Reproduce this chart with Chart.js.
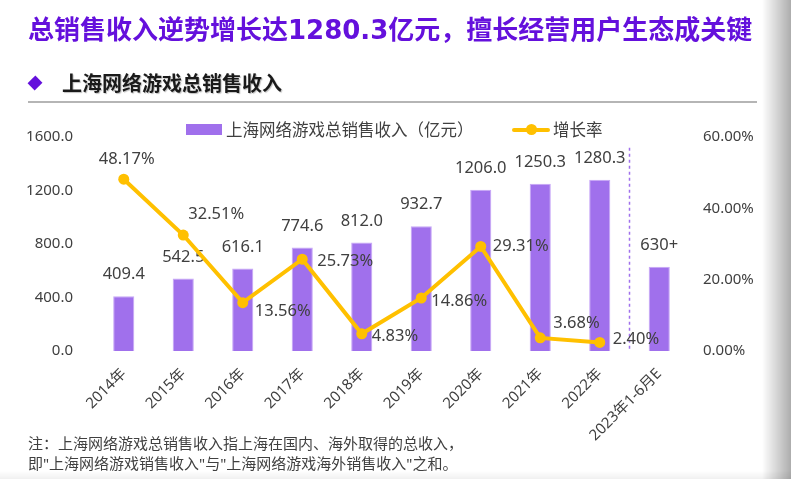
<!DOCTYPE html>
<html><head><meta charset="utf-8">
<script src="https://cdn.jsdelivr.net/npm/chart.js@4/dist/chart.umd.min.js"></script>
<style>
html,body{margin:0;padding:0;background:#fff;}
body{width:791px;height:479px;position:relative;overflow:hidden;font-family:"Noto Sans","Noto Sans CJK SC",sans-serif;}
#wrap{position:absolute;left:0;top:0;width:791px;height:479px;}
.abs{position:absolute;white-space:nowrap;}
#title{left:28px;top:15px;font-size:26px;line-height:30px;font-weight:bold;color:#6410DC;font-family:"DejaVu Sans","Noto Sans CJK SC",sans-serif;}
#sub{left:62px;top:71px;font-size:20px;line-height:24px;font-weight:bold;color:#1a1a1a;font-family:"Noto Sans CJK SC",sans-serif;text-shadow:1px 1px 1px rgba(0,0,0,0.25);}
#diamond{left:30px;top:78px;width:10px;height:10px;background:#6410DC;transform:rotate(45deg) scale(1,1.1);}
#rule{left:28px;top:101px;width:729px;height:2px;background:#b5b5b5;}
#note{left:28px;top:433px;font-size:15px;line-height:20px;color:#404040;}
.leg{font-size:16.5px;line-height:20px;color:#404040;top:119.5px;}
#lbox{left:186px;top:124px;width:36px;height:11px;background:#A070EC;}
#lline{left:512px;top:127.5px;width:38px;height:4px;background:#FFC000;border-radius:2px;}
#ldot{left:525.5px;top:124px;width:11px;height:11px;border-radius:50%;background:#FFC000;}
#shadeR{left:762px;top:0;width:29px;height:479px;background:linear-gradient(to right,rgba(0,0,0,0),rgba(0,0,0,0.32));}
#shadeB{left:0;top:471px;width:791px;height:8px;background:linear-gradient(to bottom,rgba(0,0,0,0),rgba(0,0,0,0.06));}
canvas{position:absolute;left:0;top:0;}
</style></head>
<body>
<div id="wrap"><canvas id="c" width="791" height="479"></canvas></div>
<div class="abs" id="title">总销售收入逆势增长达1280.3亿元，擅长经营用户生态成关键</div>
<div class="abs" id="diamond"></div>
<div class="abs" id="sub">上海网络游戏总销售收入</div>
<div class="abs" id="rule"></div>
<div class="abs" id="lbox"></div>
<div class="abs leg" style="left:226px;">上海网络游戏总销售收入（亿元）</div>
<div class="abs" id="lline"></div>
<div class="abs" id="ldot"></div>
<div class="abs leg" style="left:553px;">增长率</div>
<div class="abs" id="note">注：上海网络游戏总销售收入指上海在国内、海外取得的总收入，<br>即"上海网络游戏销售收入"与"上海网络游戏海外销售收入"之和。</div>
<div class="abs" id="shadeR"></div>
<div class="abs" id="shadeB"></div>
<script>
const categories = ['2014年','2015年','2016年','2017年','2018年','2019年','2020年','2021年','2022年','2023年1-6月E'];
const revenue = [409.4, 542.5, 616.1, 774.6, 812.0, 932.7, 1206.0, 1250.3, 1280.3, 630];
const revenueLabels = ['409.4','542.5','616.1','774.6','812.0','932.7','1206.0','1250.3','1280.3','630+'];
const growthRate = [48.17, 32.51, 13.56, 25.73, 4.83, 14.86, 29.31, 3.68, 2.40, null];
const growthLabels = ['48.17%','32.51%','13.56%','25.73%','4.83%','14.86%','29.31%','3.68%','2.40%',''];
const leftTicks = [0, 400, 800, 1200, 1600];
const rightTicks = [0, 20, 40, 60];

// label placement for growth-rate labels: [align, dx, dy]
const rateLabelPlace = [
  ['center', 3, -19.5], ['left', 5, -21], ['left', 12, 8.5], ['left', 15, 2],
  ['left', 10, 2.5], ['left', 10, 3], ['left', 12, 0], ['left', 13, -15], ['left', 13, -3], ['left', 0, 0]
];

const TXT = '#404040';
const FONT = '"Noto Sans","Noto Sans CJK SC",sans-serif';

const labelPlugin = {
  id: 'labels',
  afterDatasetDraw(chart, args) {
    if (args.index !== 0) return;
    const ctx = chart.ctx;
    const meta = chart.getDatasetMeta(0);
    ctx.save();
    ctx.font = '16.5px ' + FONT;
    ctx.fillStyle = TXT;
    ctx.textAlign = 'center';
    ctx.textBaseline = 'middle';
    meta.data.forEach((el, i) => {
      ctx.fillText(revenueLabels[i], el.x, el.y - 21.5);
    });
    // dashed separator between last two categories
    const xs = chart.scales.x;
    const n = categories.length;
    const sx = (xs.getPixelForValue(n - 2) + xs.getPixelForValue(n - 1)) / 2;
    ctx.strokeStyle = '#A070EC';
    ctx.lineWidth = 1.5;
    ctx.setLineDash([3, 3]);
    ctx.beginPath();
    ctx.moveTo(sx, chart.scales.y.getPixelForValue(1520));
    ctx.lineTo(sx, chart.chartArea.bottom);
    ctx.stroke();
    ctx.restore();
  },
  afterDatasetsDraw(chart) {
    const ctx = chart.ctx;
    const meta = chart.getDatasetMeta(1);
    ctx.save();
    ctx.font = '16.5px ' + FONT;
    ctx.fillStyle = TXT;
    ctx.textBaseline = 'middle';
    meta.data.forEach((el, i) => {
      if (growthRate[i] == null) return;
      const p = rateLabelPlace[i];
      ctx.textAlign = p[0];
      ctx.fillText(growthLabels[i], el.x + p[1], el.y + p[2]);
    });
    ctx.restore();
  }
};

Chart.defaults.font.family = FONT;
Chart.defaults.color = TXT;

new Chart(document.getElementById('c'), {
  type: 'bar',
  data: {
    labels: categories,
    datasets: [
      {
        type: 'bar', label: '上海网络游戏总销售收入（亿元）', data: revenue, yAxisID: 'y',
        backgroundColor: '#A070EC', borderColor: '#C7A6F7', borderWidth: 1,
        barPercentage: 0.355, categoryPercentage: 1, order: 2
      },
      {
        type: 'line', label: '增长率', data: growthRate, yAxisID: 'y1',
        borderColor: '#FFC000', backgroundColor: '#FFC000', borderWidth: 4,
        pointRadius: 5.5, pointBackgroundColor: '#FFC000', pointBorderWidth: 0,
        tension: 0, spanGaps: false, order: 1
      }
    ]
  },
  options: {
    responsive: false, animation: false,
    layout: { padding: { top: 137, left: 0, right: 0, bottom: 0 } },
    plugins: { legend: { display: false }, tooltip: { enabled: false } },
    scales: {
      x: {
        grid: { display: false, drawTicks: false }, border: { display: false },
        ticks: { minRotation: 45, maxRotation: 45, padding: 14, font: { size: 15 }, color: TXT, autoSkip: false },
        afterFit(s) { s.height = 128; }
      },
      y: {
        position: 'left', min: 0, max: 1600,
        grid: { display: false, drawTicks: false }, border: { display: false },
        afterBuildTicks(s) { s.ticks = leftTicks.map(v => ({ value: v })); },
        ticks: { padding: 21, font: { size: 15 }, color: TXT, callback: v => Number(v).toFixed(1) },
        afterFit(s) { s.width = 94; }
      },
      y1: {
        position: 'right', min: 0, max: 60,
        grid: { display: false, drawTicks: false }, border: { display: false },
        afterBuildTicks(s) { s.ticks = rightTicks.map(v => ({ value: v })); },
        ticks: { padding: 14, font: { size: 15 }, color: TXT, callback: v => Number(v).toFixed(2) + '%' },
        afterFit(s) { s.width = 102; }
      }
    }
  },
  plugins: [labelPlugin]
});
</script>
</body></html>
